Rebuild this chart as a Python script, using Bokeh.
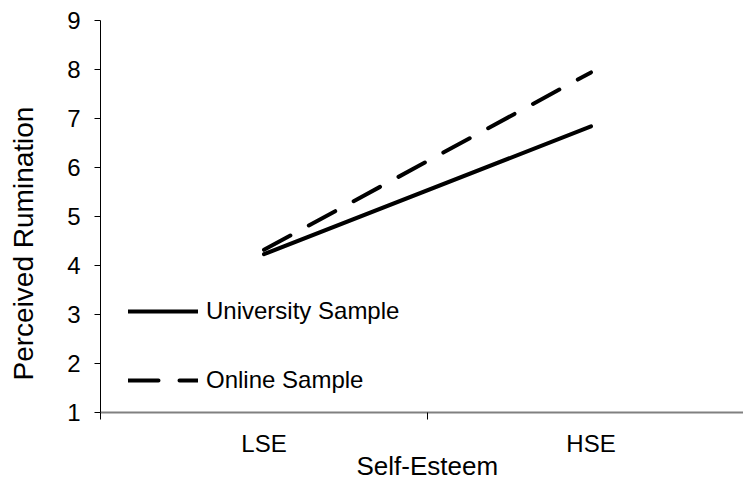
from bokeh.plotting import figure
from bokeh.models import Range1d, FixedTicker, Legend, LegendItem, Title, LinearAxis
from bokeh.embed import file_html
from bokeh.resources import INLINE

# ---- data ----
categories = ["LSE", "HSE"]
x_pos = [0.5, 1.5]
university = [4.23, 6.84]
online = [4.32, 7.94]
y_ticks = [1, 2, 3, 4, 5, 6, 7, 8, 9]
x_boundaries = [0, 1, 2]

FONT = "Liberation Sans"
FS = "24px"

W, H = 743, 481
LEFT, TOP, BOTTOM = 100, 20, 69
UNIT = 327  # px per category

p = figure(width=W, height=H, output_backend="svg", toolbar_location=None,
           x_range=Range1d(0, (W - LEFT) / UNIT), y_range=Range1d(1, 9),
           min_border_left=LEFT, min_border_right=0, min_border_top=TOP,
           min_border_bottom=BOTTOM)
p.outline_line_color = None
p.grid.visible = False
p.background_fill_color = "white"
p.border_fill_color = "white"

r_uni = p.line(x_pos, university, line_width=4, line_color="black", line_cap="round")
r_onl = p.line(x_pos, online, line_width=4, line_color="black", line_cap="round",
               line_dash="30 21")

# x axis
xa = p.xaxis[0]
xa.ticker = FixedTicker(ticks=x_pos, minor_ticks=x_boundaries)
xa.major_label_overrides = {x: c for x, c in zip(x_pos, categories)}
xa.major_tick_out = 0
xa.major_tick_in = 0
xa.major_tick_line_color = None
xa.minor_tick_out = 7
xa.minor_tick_in = 0
xa.minor_tick_line_color = "black"
xa.axis_line_color = "#808080"
xa.axis_line_width = 2
xa.major_label_standoff = 10
xa.major_label_text_font = FONT
xa.major_label_text_font_size = FS
xa.major_label_text_color = "black"

# y axis
ya = p.yaxis[0]
ya.ticker = FixedTicker(ticks=y_ticks)
ya.major_tick_out = 6
ya.major_tick_in = 0
ya.major_tick_line_color = "black"
ya.minor_tick_line_color = None
ya.axis_line_color = "black"
ya.axis_line_width = 1
ya.major_label_standoff = 14
ya.major_label_text_font = FONT
ya.major_label_text_font_size = FS
ya.major_label_text_color = "black"

# blank spacer axis between the tick labels and the y title
# (one white tick on the white border, empty label)
spacer = LinearAxis(ticker=FixedTicker(ticks=[5]), axis_line_color=None,
                    major_tick_line_color="white", minor_tick_line_color=None,
                    major_tick_out=26, major_tick_in=0, minor_tick_out=0,
                    major_label_standoff=0, major_label_overrides={5: ""})
p.add_layout(spacer, "left")

# axis titles
p.add_layout(Title(text="Perceived Rumination", align="left", offset=32,
                   vertical_align="bottom", standoff=0,
                   text_font=FONT, text_font_size="28px",
                   text_font_style="normal", text_color="black"), "left")
p.add_layout(Title(text="Self-Esteem", align="left", offset=256,
                   vertical_align="top", standoff=-17,
                   text_font=FONT, text_font_size="26px",
                   text_font_style="normal", text_color="black"), "below")

legend = Legend(items=[LegendItem(label="University Sample", renderers=[r_uni]),
                       LegendItem(label="Online Sample", renderers=[r_onl])],
                location=(28, 17), padding=0, margin=0,
                border_line_color=None, background_fill_alpha=0,
                glyph_width=70, glyph_height=30, label_height=30,
                spacing=39, label_standoff=8,
                label_text_font=FONT, label_text_font_size=FS,
                label_text_color="black")
p.add_layout(legend)

open("out.html", "w").write(file_html(p, INLINE))
